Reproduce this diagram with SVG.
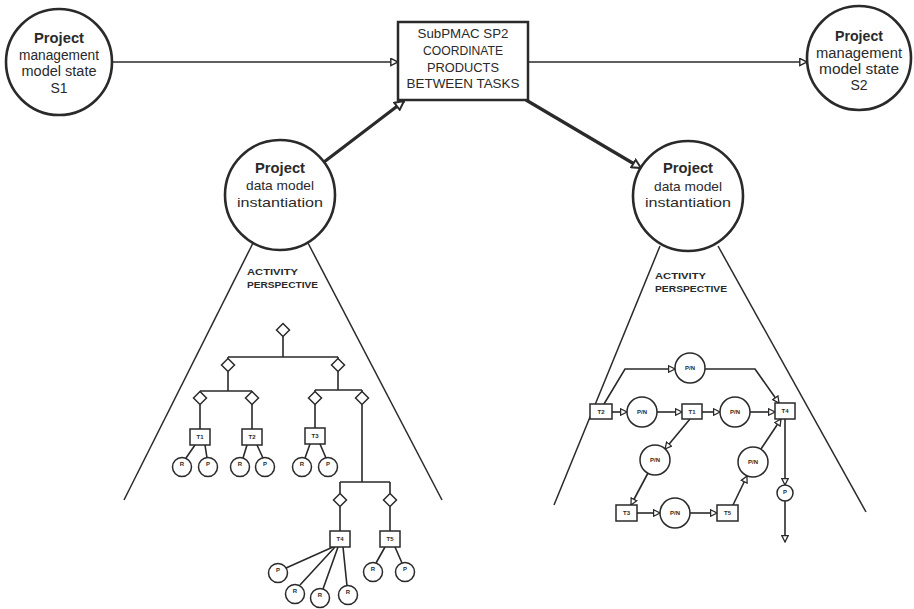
<svg xmlns="http://www.w3.org/2000/svg" width="914" height="609" viewBox="0 0 914 609">
  <style>
    .big { fill: #fff; stroke: #2a2a2a; stroke-width: 2.6; }
    .box { fill: #fff; stroke: #2a2a2a; stroke-width: 2.5; }
    .ln { fill: none; stroke: #2a2a2a; stroke-width: 1.6; }
    .thick { fill: none; stroke: #2a2a2a; stroke-width: 3.2; }
    .tri { fill: none; stroke: #2a2a2a; stroke-width: 1.5; }
    .sm { fill: #fff; stroke: #2a2a2a; stroke-width: 1.5; }
    .dia { fill: #fff; stroke: #2a2a2a; stroke-width: 1.5; }
    text { font-family: "Liberation Sans", Arial, sans-serif; fill: #2a2a2a; }
    .t14 { font-size: 14px; text-anchor: middle; }
    .t13 { font-size: 13px; text-anchor: middle; }
    .b { font-weight: bold; }
    .persp { font-size: 9px; font-weight: bold; }
    .tiny { font-size: 6px; font-weight: bold; text-anchor: middle; }
  </style>
  <defs>
    <marker id="open" viewBox="0 0 10 10" refX="9" refY="5" markerWidth="9" markerHeight="9" markerUnits="userSpaceOnUse" orient="auto">
      <path d="M1,1 L9,5 L1,9 Z" fill="#fff" stroke="#2a2a2a" stroke-width="1.6"/>
    </marker>
    <marker id="openS" viewBox="0 0 10 10" refX="9" refY="5" markerWidth="8" markerHeight="8" markerUnits="userSpaceOnUse" orient="auto">
      <path d="M1,1 L9,5 L1,9 Z" fill="#fff" stroke="#2a2a2a" stroke-width="1.6"/>
    </marker>
    <marker id="openL" viewBox="0 0 10 10" refX="9" refY="5" markerWidth="11" markerHeight="11" markerUnits="userSpaceOnUse" orient="auto">
      <path d="M1,1 L9,5 L1,9 Z" fill="#fff" stroke="#2a2a2a" stroke-width="1.8"/>
    </marker>
    <path id="dmd" d="M0,-6.5 L6.5,0 L0,6.5 L-6.5,0 Z"/>
  </defs>

  <rect width="914" height="609" fill="#fff"/>

  <!-- connectors between the top-level nodes -->
  <g id="connectors">
    <line class="ln" x1="112" y1="62" x2="398" y2="62" marker-end="url(#open)"/>
    <line class="ln" x1="528" y1="62" x2="807" y2="62" marker-end="url(#open)"/>
    <line class="thick" x1="324" y1="162" x2="404" y2="101" marker-end="url(#openL)"/>
    <line class="thick" x1="526" y1="100" x2="641" y2="168" marker-end="url(#openL)"/>
  </g>

  <g id="state-s1">
    <circle class="big" cx="59" cy="62" r="53"/>
    <text class="t14 b" x="59" y="43" textLength="50" lengthAdjust="spacingAndGlyphs">Project</text>
    <text class="t14" x="59" y="60" textLength="80" lengthAdjust="spacingAndGlyphs">management</text>
    <text class="t14" x="59" y="76" textLength="75" lengthAdjust="spacingAndGlyphs">model state</text>
    <text class="t14" x="59" y="93">S1</text>
  </g>

  <g id="subpmac-sp2">
    <rect class="box" x="398" y="22" width="130" height="78"/>
    <text class="t13" x="463" y="38" textLength="91" lengthAdjust="spacingAndGlyphs">SubPMAC SP2</text>
    <text class="t13" x="463" y="55" textLength="80" lengthAdjust="spacingAndGlyphs">COORDINATE</text>
    <text class="t13" x="463" y="72" textLength="72" lengthAdjust="spacingAndGlyphs">PRODUCTS</text>
    <text class="t13" x="463" y="88" textLength="113" lengthAdjust="spacingAndGlyphs">BETWEEN TASKS</text>
  </g>

  <g id="state-s2">
    <circle class="big" cx="859" cy="58" r="52"/>
    <text class="t14 b" x="859" y="41" textLength="48" lengthAdjust="spacingAndGlyphs">Project</text>
    <text class="t14" x="859" y="58" textLength="86" lengthAdjust="spacingAndGlyphs">management</text>
    <text class="t14" x="859" y="74" textLength="80" lengthAdjust="spacingAndGlyphs">model state</text>
    <text class="t14" x="859" y="90">S2</text>
  </g>

  <!-- left instantiation: activity tree -->
  <g id="instantiation-left">
    <circle class="big" cx="280" cy="195" r="55"/>
    <text class="t14 b" x="280" y="173" textLength="50" lengthAdjust="spacingAndGlyphs">Project</text>
    <text class="t13" x="280" y="190" textLength="68" lengthAdjust="spacingAndGlyphs">data model</text>
    <text class="t13" x="280" y="207" textLength="86" lengthAdjust="spacingAndGlyphs">instantiation</text>
    <line class="tri" x1="253" y1="243" x2="124" y2="500"/>
    <line class="tri" x1="308" y1="243" x2="442" y2="500"/>
    <text class="persp" x="247" y="275" textLength="51" lengthAdjust="spacingAndGlyphs">ACTIVITY</text>
    <text class="persp" x="247" y="288" textLength="71" lengthAdjust="spacingAndGlyphs">PERSPECTIVE</text>
  </g>

  <g id="activity-tree">
    <g class="ln">
      <path d="M283,336.5 V357 M228,357 H338 M228,357 V358.5 M338,357 V358.5"/>
      <path d="M228,371.5 V391 M200,391 H252 M200,391 V391.5 M252,391 V391.5"/>
      <path d="M338,371.5 V390 M315,390 H362 M315,390 V391.5 M362,390 V391.5"/>
      <path d="M200,404.5 V429 M252,404.5 V429 M315,404.5 V428"/>
      <path d="M362,404.5 V482 M340,482 H390 M340,482 V493.5 M390,482 V493.5"/>
      <path d="M340,506.5 V531 M390,506.5 V531"/>
      <!-- leaf links -->
      <path d="M195,445 L186,458 M205,445 L207,458"/>
      <path d="M247,445 L243,458 M257,445 L263,458"/>
      <path d="M310,444 L305,458 M320,444 L326,458"/>
      <path d="M333,547 L286,568 M335,547 L300,585 M338,547 L323,589 M343,547 L347,586"/>
      <path d="M385,547 L376,563 M395,547 L402,563"/>
    </g>
    <use href="#dmd" class="dia" x="283" y="330"/>
    <use href="#dmd" class="dia" x="228" y="365"/>
    <use href="#dmd" class="dia" x="338" y="365"/>
    <use href="#dmd" class="dia" x="200" y="398"/>
    <use href="#dmd" class="dia" x="252" y="398"/>
    <use href="#dmd" class="dia" x="315" y="398"/>
    <use href="#dmd" class="dia" x="362" y="398"/>
    <use href="#dmd" class="dia" x="340" y="500"/>
    <use href="#dmd" class="dia" x="390" y="500"/>

    <g id="task-t1"><rect class="sm" x="190" y="429" width="20" height="16"/><text class="tiny" x="200" y="439">T1</text></g>
    <g id="task-t2"><rect class="sm" x="242" y="429" width="20" height="16"/><text class="tiny" x="252" y="439">T2</text></g>
    <g id="task-t3"><rect class="sm" x="305" y="428" width="20" height="16"/><text class="tiny" x="315" y="438">T3</text></g>
    <g id="task-t4"><rect class="sm" x="330" y="531" width="20" height="16"/><text class="tiny" x="340" y="541">T4</text></g>
    <g id="task-t5"><rect class="sm" x="380" y="531" width="20" height="16"/><text class="tiny" x="390" y="541">T5</text></g>

    <g id="leaves">
      <circle class="sm" cx="182" cy="467" r="9.5"/><text class="tiny" x="182" y="466">R</text>
      <circle class="sm" cx="208" cy="467" r="9.5"/><text class="tiny" x="208" y="466">P</text>
      <circle class="sm" cx="240" cy="467" r="9.5"/><text class="tiny" x="240" y="466">R</text>
      <circle class="sm" cx="265" cy="467" r="9.5"/><text class="tiny" x="265" y="466">P</text>
      <circle class="sm" cx="302" cy="467" r="9.5"/><text class="tiny" x="302" y="466">R</text>
      <circle class="sm" cx="328" cy="467" r="9.5"/><text class="tiny" x="328" y="466">P</text>
      <circle class="sm" cx="278" cy="573" r="9.5"/><text class="tiny" x="278" y="572">P</text>
      <circle class="sm" cx="295" cy="594" r="9.5"/><text class="tiny" x="295" y="593">R</text>
      <circle class="sm" cx="320" cy="598" r="9.5"/><text class="tiny" x="320" y="597">R</text>
      <circle class="sm" cx="348" cy="595" r="9.5"/><text class="tiny" x="348" y="594">R</text>
      <circle class="sm" cx="373" cy="572" r="9.5"/><text class="tiny" x="373" y="571">R</text>
      <circle class="sm" cx="405" cy="572" r="9.5"/><text class="tiny" x="405" y="571">P</text>
    </g>
  </g>

  <!-- right instantiation: activity net -->
  <g id="instantiation-right">
    <circle class="big" cx="688" cy="196" r="55"/>
    <text class="t14 b" x="688" y="173" textLength="50" lengthAdjust="spacingAndGlyphs">Project</text>
    <text class="t13" x="688" y="191" textLength="68" lengthAdjust="spacingAndGlyphs">data model</text>
    <text class="t13" x="688" y="207" textLength="86" lengthAdjust="spacingAndGlyphs">instantiation</text>
    <line class="tri" x1="660" y1="246" x2="554" y2="505"/>
    <line class="tri" x1="718" y1="246" x2="866" y2="512"/>
    <text class="persp" x="655" y="279" textLength="51" lengthAdjust="spacingAndGlyphs">ACTIVITY</text>
    <text class="persp" x="655" y="292" textLength="72" lengthAdjust="spacingAndGlyphs">PERSPECTIVE</text>
  </g>

  <g id="activity-net">
    <g class="ln">
      <path d="M604,404 L625,369 L675,369" marker-end="url(#openS)"/>
      <path d="M705,369 L755,369 L779,403" marker-end="url(#openS)"/>
      <path d="M612,412 L627,412" marker-end="url(#openS)"/>
      <path d="M657,412 L682,412" marker-end="url(#openS)"/>
      <path d="M702,412 L720,412" marker-end="url(#openS)"/>
      <path d="M750,412 L775,412" marker-end="url(#openS)"/>
      <path d="M690,419 L665,449" marker-end="url(#openS)"/>
      <path d="M648,473 L631,505" marker-end="url(#openS)"/>
      <path d="M637,513 L660,513" marker-end="url(#openS)"/>
      <path d="M690,513 L717,513" marker-end="url(#openS)"/>
      <path d="M733,505 L747,476" marker-end="url(#openS)"/>
      <path d="M761,449 L781,419" marker-end="url(#openS)"/>
      <path d="M785,419 L785,485" marker-end="url(#openS)"/>
      <path d="M785,501 L785,542" marker-end="url(#openS)"/>
    </g>
    <g id="net-t2"><rect class="sm" x="590" y="404" width="22" height="15"/><text class="tiny" x="601" y="414">T2</text></g>
    <g id="net-t1"><rect class="sm" x="682" y="404" width="20" height="15"/><text class="tiny" x="692" y="414">T1</text></g>
    <g id="net-t4"><rect class="sm" x="775" y="403" width="20" height="16"/><text class="tiny" x="785" y="413">T4</text></g>
    <g id="net-t3"><rect class="sm" x="616" y="505" width="21" height="16"/><text class="tiny" x="626.5" y="515">T3</text></g>
    <g id="net-t5"><rect class="sm" x="717" y="505" width="21" height="16"/><text class="tiny" x="727.5" y="515">T5</text></g>
    <g id="net-places">
      <circle class="sm" cx="690" cy="368" r="15"/><text class="tiny" x="690" y="370">P/N</text>
      <circle class="sm" cx="642" cy="412" r="15"/><text class="tiny" x="642" y="414">P/N</text>
      <circle class="sm" cx="735" cy="412" r="15"/><text class="tiny" x="735" y="414">P/N</text>
      <circle class="sm" cx="655" cy="460" r="15"/><text class="tiny" x="655" y="462">P/N</text>
      <circle class="sm" cx="675" cy="513" r="15"/><text class="tiny" x="675" y="515">P/N</text>
      <circle class="sm" cx="753" cy="462" r="15"/><text class="tiny" x="753" y="464">P/N</text>
      <circle class="sm" cx="785" cy="493" r="8"/><text class="tiny" x="785" y="494">P</text>
    </g>
  </g>
</svg>
